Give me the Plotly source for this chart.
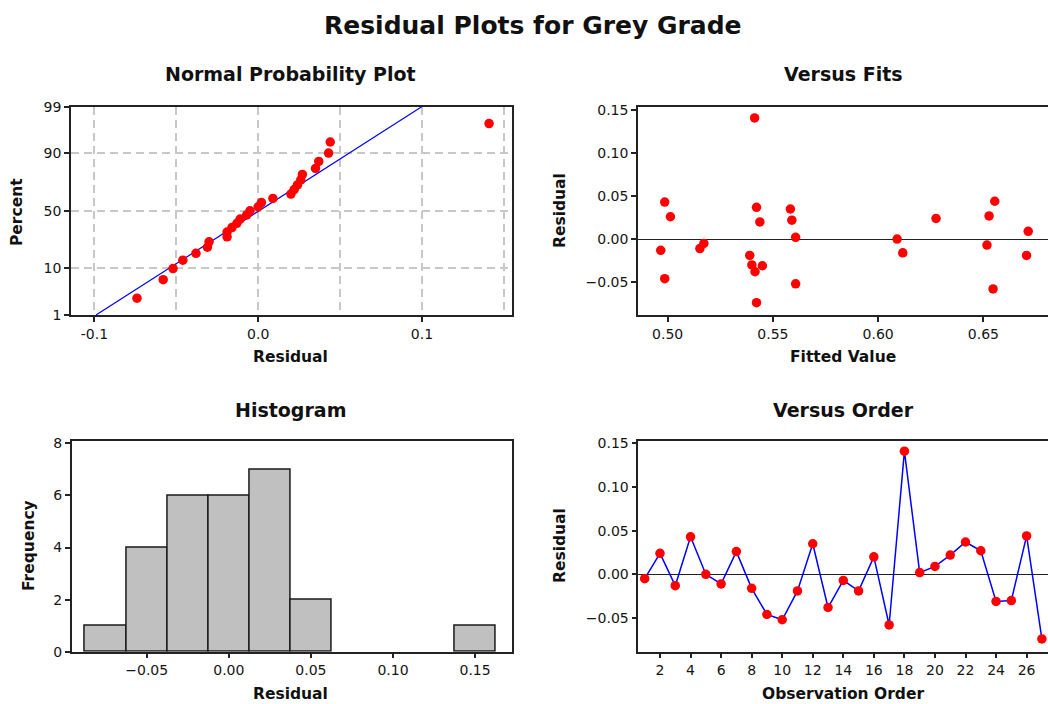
import plotly.graph_objects as go
from statistics import NormalDist
import numpy as np

# ---- data ----
observation_order = list(range(1, 28))
residuals = [-0.005, 0.024, -0.013, 0.043, 0.000, -0.011, 0.026, -0.016, -0.046,
             -0.052, -0.019, 0.035, -0.038, -0.007, -0.019, 0.020, -0.058, 0.141,
             0.002, 0.009, 0.022, 0.037, 0.027, -0.031, -0.030, 0.044, -0.074]
fitted_values = [0.5172, 0.6275, 0.4967, 0.4986, 0.6090, 0.5153, 0.5013, 0.6117, 0.4986,
                 0.5608, 0.5390, 0.5583, 0.5415, 0.6517, 0.6705, 0.5438, 0.6546, 0.5413,
                 0.5608, 0.6713, 0.5590, 0.5422, 0.6527, 0.5450, 0.5400, 0.6554, 0.5422]
percent_ticks = [1, 10, 50, 90, 99]
npp_x_ticks = [-0.1, 0.0, 0.1]
npp_x_minor = [-0.05, 0.05, 0.15]
fits_x_ticks = [0.50, 0.55, 0.60, 0.65]
resid_ticks = [-0.05, 0.00, 0.05, 0.10, 0.15]
hist_x_ticks = [-0.05, 0.00, 0.05, 0.10, 0.15]
hist_y_ticks = [0, 2, 4, 6, 8]
order_ticks = list(range(2, 27, 2))

W, H = 1048, 704
nd = NormalDist()
FONT = "DejaVu Sans"
TXT = "#151515"
FRAME = "#222222"

# normal probability plot values (Benard median ranks)
n = len(residuals)
sorted_res = sorted(residuals)
npp_z = [nd.inv_cdf((i + 1 - 0.3) / (n + 0.4)) for i in range(n)]
mu = float(np.mean(residuals))
sd = float(np.std(residuals, ddof=1))
z_lo, z_hi = nd.inv_cdf(0.01), nd.inv_cdf(0.99)
line_z = [z_lo, z_hi]
line_x = [mu + sd * z for z in line_z]

def dx(px):
    return px / W

def dy(px):
    return 1 - px / H

fig = go.Figure()

# Normal probability plot
fig.add_trace(go.Scatter(x=line_x, y=line_z, mode="lines",
                         line=dict(color="#0000ff", width=1.2),
                         xaxis="x", yaxis="y", showlegend=False))
fig.add_trace(go.Scatter(x=sorted_res, y=npp_z, mode="markers",
                         marker=dict(color="#ff0000", size=9.5),
                         xaxis="x", yaxis="y", showlegend=False))
# Versus fits
fig.add_trace(go.Scatter(x=fitted_values, y=residuals, mode="markers",
                         marker=dict(color="#ff0000", size=9.5),
                         xaxis="x2", yaxis="y2", showlegend=False))
# Histogram
fig.add_trace(go.Histogram(x=residuals,
                           xbins=dict(start=-0.0875, end=0.1625, size=0.025),
                           marker=dict(color="#c0c0c0", line=dict(color="#1a1a1a", width=1.5)),
                           xaxis="x3", yaxis="y3", showlegend=False))
# Versus order
fig.add_trace(go.Scatter(x=observation_order, y=residuals, mode="lines+markers",
                         line=dict(color="#0000ff", width=1.5),
                         marker=dict(color="#ff0000", size=9.5),
                         xaxis="x4", yaxis="y4", showlegend=False))

tickfont = dict(family=FONT, size=14, color=TXT)
common = dict(showline=True, linecolor=FRAME, linewidth=1.5, ticks="outside",
              ticklen=5, tickwidth=1.5, tickcolor=FRAME, tickfont=tickfont,
              zeroline=False, showgrid=False, automargin=False)
grid = dict(showgrid=True, gridcolor="#c8c8c8", gridwidth=1.5, griddash="8px,5px")

top_dom = [dy(315), dy(106.7)]
bot_dom = [dy(651.7), dy(440.7)]

fig.update_layout(
    width=W, height=H, margin=dict(l=0, r=0, t=0, b=0, pad=0), autosize=False,
    paper_bgcolor="white", plot_bgcolor="white", bargap=0,
    font=dict(family=FONT, color=TXT),
    xaxis=dict(domain=[dx(71), dx(512)], anchor="y", range=[-0.1143, 0.155],
               tickvals=npp_x_ticks, ticktext=["-0.1", "0.0", "0.1"], mirror=True,
               minor=dict(tickvals=npp_x_minor, ticks="", showgrid=True,
                          gridcolor="#c8c8c8", gridwidth=1.5, griddash="8px,5px"),
               **common | grid),
    yaxis=dict(domain=top_dom, anchor="x", range=[z_lo, z_hi],
               tickvals=[nd.inv_cdf(p / 100) for p in percent_ticks],
               ticktext=[str(p) for p in percent_ticks], mirror=True,
               **common | grid),
    xaxis2=dict(domain=[dx(638), 1.0], anchor="y2", range=[0.4859, 0.6807],
                tickvals=fits_x_ticks, tickformat=".2f", mirror=True, **common),
    yaxis2=dict(domain=top_dom, anchor="x2", range=[-0.0883, 0.154],
                tickvals=resid_ticks, tickformat=".2f",
                **common | dict(zeroline=True, zerolinecolor="#222222", zerolinewidth=1.2)),
    xaxis3=dict(domain=[dx(71.7), dx(512)], anchor="y3", range=[-0.0957, 0.1725],
                tickvals=hist_x_ticks, tickformat=".2f", mirror=True, **common),
    yaxis3=dict(domain=bot_dom, anchor="x3", range=[0, 8.1],
                tickvals=hist_y_ticks, mirror=True, **common),
    xaxis4=dict(domain=[dx(638.3), 1.0], anchor="y4", range=[0.58, 27.4],
                tickvals=order_ticks, mirror=True, **common),
    yaxis4=dict(domain=bot_dom, anchor="x4", range=[-0.0886, 0.153],
                tickvals=resid_ticks, tickformat=".2f",
                **common | dict(zeroline=True, zerolinecolor="#222222", zerolinewidth=1.2)),
)

def label(text, x, y, size, angle=0):
    fig.add_annotation(text=f"<b>{text}</b>", x=dx(x), y=dy(y), xref="paper", yref="paper",
                       showarrow=False, xanchor="center", yanchor="middle", textangle=angle,
                       font=dict(family=FONT, size=size, color="#111111"))

label("Residual Plots for Grey Grade", 533, 25, 25)
label("Normal Probability Plot", 290, 74, 19)
label("Versus Fits", 843, 74, 19)
label("Histogram", 290, 410, 19)
label("Versus Order", 843, 410, 19)
label("Residual", 290, 357, 15.5)
label("Fitted Value", 843, 357, 15.5)
label("Residual", 290, 694, 15.5)
label("Observation Order", 843, 694, 15.5)
label("Percent", 17, 212, 15.5, -90)
label("Residual", 560, 211, 15.5, -90)
label("Frequency", 29, 546, 15.5, -90)
label("Residual", 560, 546, 15.5, -90)

fig.write_html("out.html",
               config={"displayModeBar": False},
               post_script="document.body.style.margin='0';document.body.style.overflow='hidden';"
                           "document.documentElement.style.overflow='hidden';")
